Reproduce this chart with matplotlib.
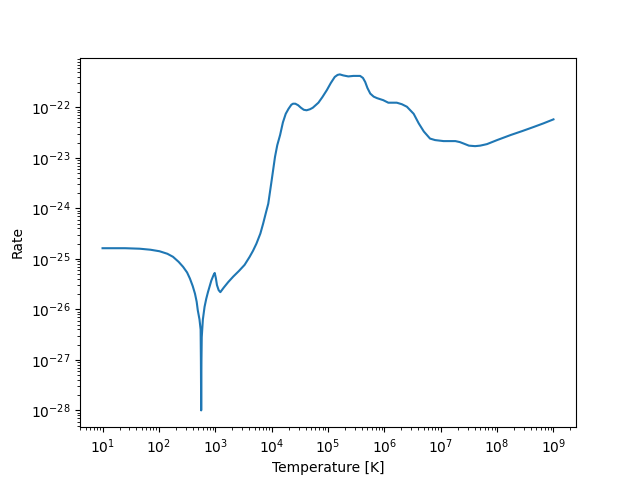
import numpy as np
import matplotlib
matplotlib.use('Agg')
import matplotlib.pyplot as plt

# log10 of temperature [K] and log10 of the rate
log_temp = [1.00, 1.40, 1.66, 1.85, 2.01, 2.15, 2.25, 2.35, 2.43, 2.50,
            2.55, 2.60, 2.64, 2.67, 2.69, 2.72, 2.74, 2.745, 2.75, 2.755,
            2.76, 2.78, 2.81, 2.84, 2.87, 2.93, 2.97, 2.99, 3.01, 3.03,
            3.06, 3.09, 3.15, 3.23, 3.32, 3.42, 3.52, 3.61, 3.67, 3.73,
            3.80, 3.85, 3.90, 3.94, 4.00, 4.06, 4.10, 4.15, 4.20, 4.25,
            4.30, 4.35, 4.38, 4.42, 4.47, 4.52, 4.57, 4.62, 4.68, 4.73,
            4.77, 4.83, 4.90, 4.98, 5.05, 5.12, 5.17, 5.21, 5.27, 5.36,
            5.45, 5.57, 5.62, 5.66, 5.70, 5.75, 5.81, 5.87, 5.98, 6.07,
            6.15, 6.22, 6.31, 6.40, 6.52, 6.61, 6.70, 6.81, 6.90, 7.05,
            7.15, 7.26, 7.34, 7.41, 7.50, 7.61, 7.70, 7.82, 8.00, 8.24,
            8.45, 8.65, 8.82, 9.00]
log_rate = [-24.79, -24.79, -24.80, -24.82, -24.85, -24.90, -24.96, -25.06, -25.16, -25.27,
            -25.39, -25.54, -25.69, -25.85, -26.02, -26.20, -26.40, -27.00, -28.00, -27.00,
            -26.55, -26.20, -25.95, -25.79, -25.66, -25.43, -25.32, -25.28, -25.38, -25.52,
            -25.62, -25.66, -25.57, -25.46, -25.35, -25.24, -25.12, -24.96, -24.84, -24.70,
            -24.50, -24.30, -24.08, -23.91, -23.45, -22.98, -22.75, -22.55, -22.30, -22.13,
            -22.03, -21.95, -21.93, -21.93, -21.96, -22.01, -22.05, -22.06, -22.04, -22.01,
            -21.97, -21.91, -21.80, -21.66, -21.52, -21.40, -21.36, -21.35, -21.37, -21.39,
            -21.38, -21.38, -21.42, -21.50, -21.62, -21.73, -21.79, -21.82, -21.86, -21.91,
            -21.91, -21.91, -21.94, -21.99, -22.13, -22.32, -22.48, -22.62, -22.65, -22.67,
            -22.67, -22.67, -22.69, -22.72, -22.76, -22.77, -22.76, -22.73, -22.65, -22.55,
            -22.47, -22.39, -22.32, -22.24]

temp = 10.0 ** np.array(log_temp)
rate = 10.0 ** np.array(log_rate)

fig, ax = plt.subplots(figsize=(6.4, 4.8), dpi=100)
ax.loglog(temp, rate)
ax.set_xlabel('Temperature [K]')
ax.set_ylabel('Rate')
fig.savefig('out.png')
